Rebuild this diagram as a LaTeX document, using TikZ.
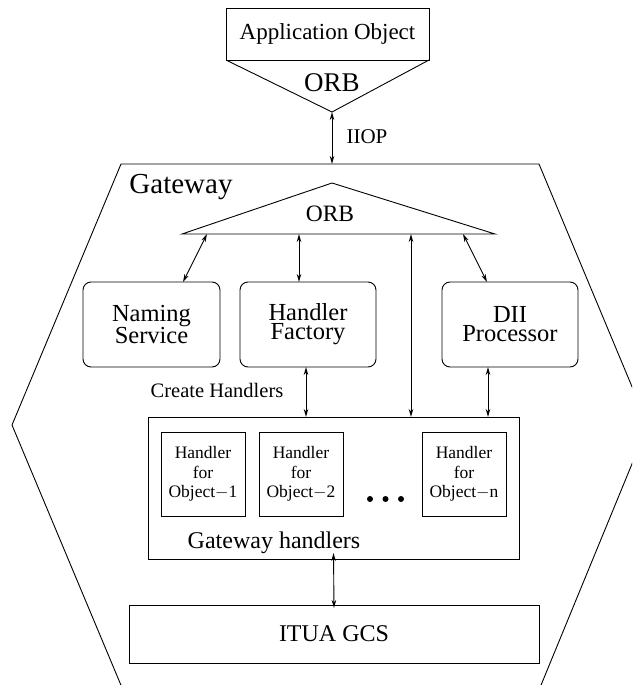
\documentclass[tikz,border=0pt]{standalone}
\usepackage{fontspec}
\setmainfont{Liberation Serif}
\usetikzlibrary{arrows.meta,calc,positioning}

\tikzset{
  blk/.style={draw,rectangle,inner sep=0pt,outer sep=0pt,align=center},
  rblk/.style={blk,rounded corners=8pt,minimum width=136pt,minimum height=85pt,
    font=\fontsize{24.5}{19}\selectfont},
  hblk/.style={blk,minimum width=84pt,minimum height=84pt,
    font=\fontsize{17.5}{19.5}\selectfont},
  lnk/.style={{Stealth[open,length=8pt,width=4.5pt,inset=2.5pt]}-{Stealth[open,length=8pt,width=4.5pt,inset=2.5pt]}},
}

\begin{document}
\begin{tikzpicture}[x=1pt,y=-1pt,line width=0.9pt]
		\clip (0,0) rectangle (632,685);
		% application side
		\node[blk,minimum width=203pt,minimum height=52pt,font=\fontsize{23}{26}\selectfont] (app) at (327.5,34) {Application Object};
		\coordinate (apex) at (332,112);
		\draw (app.south west) -- (apex) -- (app.south east);
		\node[font=\fontsize{27}{30}\selectfont] (orbtop) at (332,83) {ORB};
		% gateway hexagon
		\draw (121,164) -- (539,164) -- (648,425) -- (539,690) -- (123,690) -- (12,425) -- cycle;
		\coordinate (hextop) at (332,164);
		\draw[lnk] (apex) -- (hextop);
		\node[font=\fontsize{21}{24}\selectfont] (iiop) at (367,137) {IIOP};
		\node[font=\fontsize{29}{32}\selectfont] (gwlabel) at (181,187) {Gateway};
		% gateway ORB
		\coordinate (gtop) at (332,183);
		\coordinate (gl) at (182,234);
		\coordinate (gr) at (495,234);
		\draw (gl) -- (gtop) -- (gr) -- cycle;
		\node[font=\fontsize{23.5}{26}\selectfont] (orb) at (330,214) {ORB};
		\coordinate (o1) at (207,234);
		\coordinate (o2) at (299,234);
		\coordinate (o3) at (411,234);
		\coordinate (o4) at (463,234);
		% services
		\node[rblk,minimum width=137pt] (naming) at (151.5,324.5) {Naming\\Service};
		\node[rblk] (factory) at (308,324.5) {Handler\\Factory};
		\node[rblk] (dii) at (510,324.5) {DII\\Processor};
		% gateway handlers
		\node[blk,minimum width=371pt,minimum height=142pt] (gw) at (333.5,488) {};
		\node[hblk] (h1) at (203,474) {Handler\\for\\Object$-$1};
		\node[hblk] (h2) at (301,474) {Handler\\for\\Object$-$2};
		\node[hblk] (hn) at (464,474) {Handler\\for\\Object$-$n};
		\foreach \x in {370,385.5,401}
			\fill (\x,499) circle (3pt);
		\node[font=\fontsize{24}{27}\selectfont] (ghlabel) at (274,543) {Gateway handlers};
		\node[font=\fontsize{20.5}{23}\selectfont] (create) at (217,390) {Create Handlers};
		% group communication
		\node[blk,minimum width=410pt,minimum height=58pt,font=\fontsize{24}{27}\selectfont] (itua) at (334,634) {ITUA GCS};
		% links
		\draw[lnk] (o1) -- ([xshift=31.5pt]naming.north);
		\draw[lnk] (o2) -- (o2 |- factory.north);
		\draw[lnk] (o3) -- (o3 |- gw.north);
		\draw[lnk] (o4) -- ([xshift=-23pt]dii.north);
		\draw[lnk] ([xshift=-2pt]factory.south) -- ([xshift=-2pt]factory.south |- gw.north);
		\draw[lnk] ([xshift=-22pt]dii.south) -- ([xshift=-22pt]dii.south |- gw.north);
		\draw[lnk] ([yshift=6pt]gw.south) -- ([yshift=-3pt]itua.north);
	\end{tikzpicture}
\end{document}
